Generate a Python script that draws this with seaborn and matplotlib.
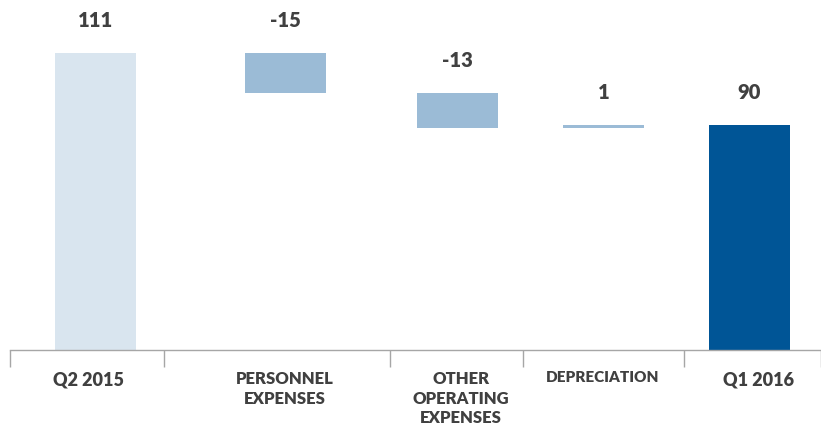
import numpy as np
import pandas as pd
import matplotlib
matplotlib.use("Agg")
import matplotlib.pyplot as plt
import seaborn as sns

# data
categories = ["Q2 2015", "PERSONNEL\nEXPENSES", "OTHER\nOPERATING\nEXPENSES", "DEPRECIATION", "Q1 2016"]
steps = [111, -15, -13, 1]
value_labels = ["111", "-15", "-13", "1", "90"]

# layout (axis units ~ pixels along the width)
slot_centers = [95.5, 285.5, 457.5, 603.5, 749.5]
label_centers = [88, 285, 461, 603, 758]
label_sizes = [13, 12, 12, 11, 13]
separators = [10, 164, 390, 523, 684, 821]

colors = ["#d9e5ef", "#9bbbd6", "#9bbbd6", "#9bbbd6", "#005596"]
text_color = "#404040"
axis_color = "#a6a6a6"

# waterfall geometry
cum = np.cumsum(steps)
bottoms = [0] + list(np.minimum(cum[:-1], cum[1:])) + [0]
tops = [cum[0]] + list(np.maximum(cum[:-1], cum[1:])) + [cum[-1]]
heights = [t - b for t, b in zip(tops, bottoms)]

df = pd.DataFrame({"pos": slot_centers, "cat": categories, "height": heights})

sns.set_style("white")
plt.rcParams["font.family"] = ["Lato", "DejaVu Sans"]

fig = plt.figure(figsize=(8.21, 4.26), dpi=100)
ax = fig.add_axes([10 / 821, 76.5 / 426, 811 / 821, 349.5 / 426])

sns.barplot(data=df, x="pos", y="height", hue="cat", palette=dict(zip(categories, colors)),
            native_scale=True, width=81 / 146, saturation=1, legend=False, ax=ax)

for patch, b in zip(ax.patches, bottoms):
    patch.set_y(b)
    patch.set_linewidth(0)

ax.set_xlim(separators[0], separators[-1])
ax.set_ylim(0, 349.5 / 2.671)

for x, top, lab in zip(slot_centers, tops, value_labels):
    ax.annotate(lab, (x, top), xytext=(0, 33), textcoords="offset pixels",
                ha="center", va="center", fontsize=14.5, fontweight="heavy", color=text_color)

for x, cat, fs in zip(label_centers, categories, label_sizes):
    ax.annotate(cat, (x, 0), xytext=(0, -22), textcoords="offset pixels",
                ha="center", va="top", fontsize=fs, fontweight="heavy",
                color=text_color, linespacing=1.25)

for s in ["top", "right", "left"]:
    ax.spines[s].set_visible(False)
ax.spines["bottom"].set_color(axis_color)
ax.spines["bottom"].set_linewidth(1)
ax.set_yticks([])
ax.set_xticks(separators)
ax.set_xticklabels([])
ax.tick_params(axis="x", direction="out", length=12, width=1, color=axis_color, bottom=True)
ax.set_xlabel("")
ax.set_ylabel("")

fig.savefig("out.png", dpi=100)
